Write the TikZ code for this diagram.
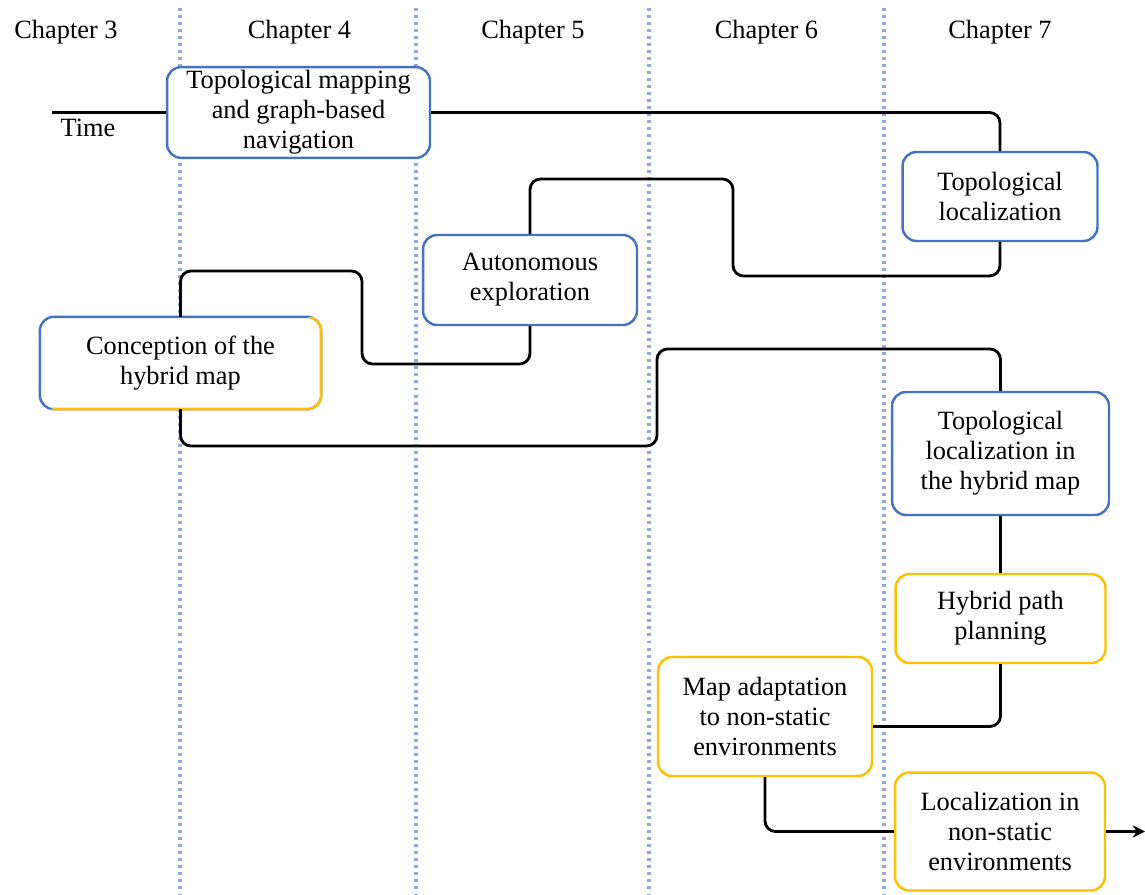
\documentclass[tikz,border=0pt]{standalone}
\usepackage{fontspec}
\setmainfont{Liberation Serif}
\usepackage{xcolor}
\usetikzlibrary{arrows.meta,calc}
\definecolor{boxblue}{HTML}{4472C4}
\definecolor{boxorange}{HTML}{FFC000}
\definecolor{gridblue}{HTML}{8FAADC}

\begin{document}
\begin{tikzpicture}[
  x=0.02cm, y=-0.02cm,
  font=\fontsize{15}{17}\selectfont, >={Stealth[length=7pt,width=7pt]},
  box/.style={rounded corners=8pt, align=center, line width=1.4pt, fill=white, inner sep=2pt},
  bbox/.style={box, draw=boxblue},
  obox/.style={box, draw=boxorange},
  link/.style={line width=1.6pt, rounded corners=6pt},
  chapsep/.style={gridblue, line width=2pt, dash pattern=on 1.7pt off 2.3pt}
]
  \useasboundingbox (0,0) rectangle (1145,895);
  \foreach \x in {180,416,649,884}
    \draw[chapsep] (\x,8) -- (\x,895);
  \foreach \c [count=\i] in {3,...,7}
    \node (ch\c) at ({66+233.5*(\i-1)},32) {Chapter \c};
  \node[bbox, minimum width=5.26cm, minimum height=1.8cm] (b1) at (298.5,112.5) {Topological mapping\\and graph-based\\navigation};
  \node[bbox, minimum width=3.9cm, minimum height=1.78cm] (b2) at (1000,196.5) {Topological\\localization};
  \node[bbox, minimum width=4.28cm, minimum height=1.8cm] (b3) at (530,280) {Autonomous\\exploration};
  \node[box, minimum width=5.58cm, minimum height=1.8cm] (b4) at (180.5,363) {Conception of the\\hybrid map};
  \node[bbox, minimum width=4.34cm, minimum height=2.46cm] (b5) at (1000.5,453.5) {Topological\\localization in\\the hybrid map};
  \node[obox, minimum width=4.2cm, minimum height=1.78cm] (b6) at (1000.5,618.5) {Hybrid path\\planning};
  \node[obox, minimum width=4.28cm, minimum height=2.38cm] (b7) at (765,716.5) {Map adaptation\\to non-static\\environments};
  \node[obox, minimum width=4.2cm, minimum height=2.36cm] (b8) at (1000,831.5) {Localization in\\non-static\\environments};
  \draw[boxblue, line width=1.4pt, rounded corners=8pt] (b4.south west) rectangle (b4.north east);
  \begin{scope}
    \clip ($(b4.north east)+(6,-6)$) -- ($(b4.south west)+(-6,6)$) -- ($(b4.south east)+(12,12)$) -- cycle;
    \draw[boxorange, line width=1.4pt, rounded corners=8pt] (b4.south west) rectangle (b4.north east);
  \end{scope}
  \coordinate (tstart) at (52,112.5);
  \coordinate (tend) at (1145,831.5);
  \node (time) at (88,128) {Time};
  \draw[link] (b1.west) -- (b1.west -| tstart);
  \draw[link] (b1.east) -| (b2.north);
  \draw[link] (b2.south) |- (733,276) |- (530,179) -- (b3.north);
  \draw[link] (b3.south) |- (362,364) |- (180.5,271) -- (b4.north);
  \draw[link] (b4.south) |- (657,446) |- (1000.5,349) -- (b5.north);
  \draw[link] (b5.south) -- (b6.north);
  \draw[link] (b6.south) |- ($(b7.east)+(0,10)$);
  \draw[link] (b7.south) |- (b8.west);
  \draw[link, ->] (b8.east) -- (b8.east -| tend);
\end{tikzpicture}
\end{document}
